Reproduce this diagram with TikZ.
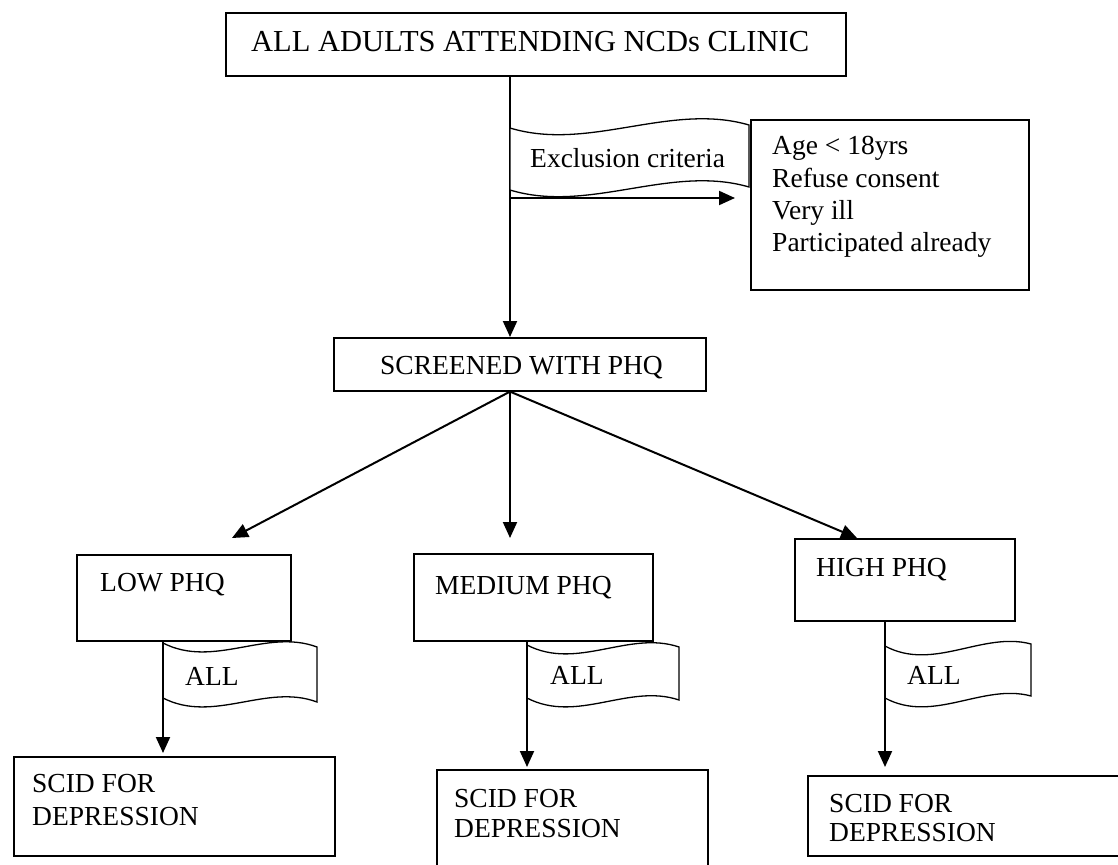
\documentclass[tikz,border=0pt]{standalone}
\usepackage{fontspec}
\setmainfont{Liberation Serif}
\usetikzlibrary{arrows.meta}
\newcommand\wavyflag[7]{% L, T, w, h, a, b, c
  \draw[flagline] (#1,#2) .. controls ({#1+0.33*#3},{#2+#5}) and ({#1+0.67*#3},{#2-#6}) .. ({#1+#3},{#2+#7})
    -- ({#1+#3},{#2+#7+#4}) .. controls ({#1+0.67*#3},{#2-#6+#4}) and ({#1+0.33*#3},{#2+#5+#4}) .. (#1,{#2+#4}) -- cycle;}
\begin{document}
\begin{tikzpicture}[x=1pt,y=-1pt,
  box/.style={draw, line width=1.6pt, rectangle, inner sep=0pt, anchor=north west},
  txt/.style={inner sep=0pt, anchor=base west, font=\fontsize{27.5}{32.5}\selectfont},
  conn/.style={line width=2pt, -{Triangle[length=16pt,width=14pt]}},
  flagline/.style={line width=1.3pt, fill=white, draw=black}]
\useasboundingbox (0,0) rectangle (1118,864);

% boxes
\node[box, minimum width=620pt, minimum height=63pt] (top) at (225,12) {};
\node[box, minimum width=278pt, minimum height=170pt] (excl) at (750,119) {};
\node[box, minimum width=372pt, minimum height=53pt] (screened) at (333,337) {};
\node[box, minimum width=214pt, minimum height=86pt] (lowbox) at (76,554) {};
\node[box, minimum width=239pt, minimum height=87pt] (medbox) at (413,553) {};
\node[box, minimum width=220pt, minimum height=82pt] (highbox) at (794,538) {};
\node[box, minimum width=321pt, minimum height=99pt] (scidlow) at (13,756) {};
\node[box, minimum width=271pt, minimum height=110pt] (scidmid) at (436,769) {};
\node[box, minimum width=360pt, minimum height=80pt] (scidhigh) at (807,775) {};

% texts
\node[txt, font=\fontsize{30.5}{35}\selectfont] (ttop) at (251,52) {ALL ADULTS ATTENDING NCDs CLINIC};
\node[txt] (e1) at (772,154) {Age < 18yrs};
\node[txt] (e2) at (772,187) {Refuse consent};
\node[txt] (e3) at (772,219) {Very ill};
\node[txt] (e4) at (772,251) {Participated already};
\node[txt] (tscr) at (380,374) {SCREENED WITH PHQ};
\node[txt] (tlow) at (100,591) {LOW PHQ};
\node[txt] (tmed) at (435,594) {MEDIUM PHQ};
\node[txt] (thigh) at (816,576) {HIGH PHQ};
\node[txt] (sl1) at (32,792) {SCID FOR};
\node[txt] (sl2) at (32,825) {DEPRESSION};
\node[txt] (sm1) at (454,807) {SCID FOR};
\node[txt] (sm2) at (454,837) {DEPRESSION};
\node[txt] (sh1) at (829,812) {SCID FOR};
\node[txt] (sh2) at (829,841) {DEPRESSION};

% guide coordinates
\coordinate (tk) at (510,0);
\coordinate (br) at (510,198);
\coordinate (lowL) at (163,0);
\coordinate (midL) at (527,0);
\coordinate (highL) at (885,0);
\coordinate (lowtip) at (232,538);
\coordinate (midtip) at (510,538);
\coordinate (hightip) at (857,538);

% trunk and exclusion
\draw[conn] (top.south -| tk) -- (screened.north -| tk);
\wavyflag{510}{128}{239}{62}{24}{26}{-3}
\node[txt] (texcl) at (530,167) {Exclusion criteria};
\draw[conn, shorten >=15pt] (br) -- (excl.west |- br);

% branches
\draw[conn] (screened.south -| tk) -- (lowtip);
\draw[conn] (screened.south -| tk) -- (midtip);
\draw[conn] (screened.south -| tk) -- (hightip);

% ALL flags and arrows
\draw[conn, shorten >=3pt] (lowbox.south -| lowL) -- (scidlow.north -| lowL);
\draw[conn, shorten >=2pt] (medbox.south -| midL) -- (scidmid.north -| midL);
\draw[conn, shorten >=8pt] (highbox.south -| highL) -- (scidhigh.north -| highL);
\wavyflag{163}{643}{154}{55}{26}{15}{4}
\wavyflag{527}{645}{152}{53}{26}{15}{2}
\wavyflag{885}{646}{146}{52}{26}{15}{-2}
\draw[line width=2pt] (lowL |- lowbox.south) -- (163,700);
\draw[line width=2pt] (midL |- medbox.south) -- (527,700);
\draw[line width=2pt] (highL |- highbox.south) -- (885,700);
\node[txt] (all1) at (185,685) {ALL};
\node[txt] (all2) at (550,684) {ALL};
\node[txt] (all3) at (907,684) {ALL};
\end{tikzpicture}
\end{document}
